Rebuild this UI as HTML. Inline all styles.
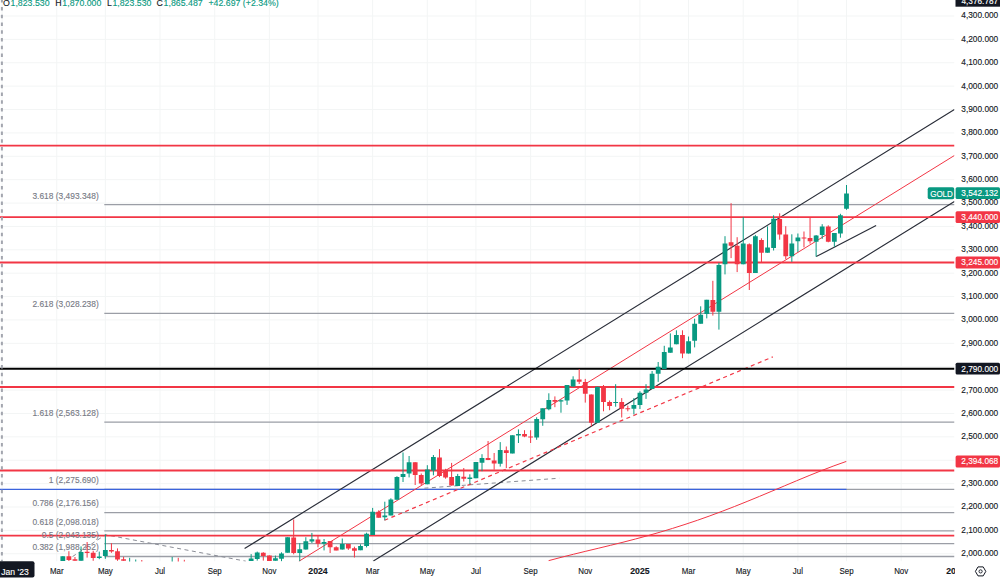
<!DOCTYPE html>
<html><head><meta charset="utf-8"><title>GOLD chart</title>
<style>html,body{margin:0;padding:0;background:#fff;width:1000px;height:581px;overflow:hidden}</style>
</head><body>
<svg width="1000" height="581" viewBox="0 0 1000 581" style="display:block;font-family:'Liberation Sans', Arial, sans-serif">
<defs><clipPath id="pc"><rect x="0" y="0" width="954.5" height="561.5"/></clipPath><clipPath id="tc"><rect x="0" y="561" width="955" height="20"/></clipPath></defs>
<rect width="1000" height="581" fill="#fff"/>
<g clip-path="url(#pc)">
<path d="M0 577.14H954.5M0 553.76H954.5M0 530.38H954.5M0 507.00H954.5M0 483.62H954.5M0 460.24H954.5M0 436.86H954.5M0 413.48H954.5M0 390.10H954.5M0 366.71H954.5M0 343.33H954.5M0 319.95H954.5M0 296.57H954.5M0 273.19H954.5M0 249.81H954.5M0 226.43H954.5M0 203.05H954.5M0 179.67H954.5M0 156.29H954.5M0 132.91H954.5M0 109.52H954.5M0 86.14H954.5M0 62.76H954.5M0 39.38H954.5M0 16.00H954.5M0 -7.38H954.5M2.07 0V561.5M56.75 0V561.5M105.35 0V561.5M160.03 0V561.5M214.70 0V561.5M269.38 0V561.5M317.98 0V561.5M372.65 0V561.5M427.32 0V561.5M475.93 0V561.5M530.60 0V561.5M585.27 0V561.5M639.95 0V561.5M688.55 0V561.5M743.23 0V561.5M797.90 0V561.5M846.50 0V561.5M901.18 0V561.5M955.85 0V561.5" stroke="#f3f5f5" stroke-width="1" fill="none"/>
<path d="M104.3 204.60H954.5M104.3 313.35H954.5M104.3 422.10H954.5M104.3 489.30H954.5M104.3 512.58H954.5M104.3 530.85H954.5M104.3 543.68H954.5M104.3 556.51H954.5" stroke="#9b9ea6" stroke-width="1.3" fill="none"/>
<path d="M0 489.30H846.5" stroke="#3b63dd" stroke-width="1.2" fill="none"/>
<path d="M72.5 556.6L105.5 534.7L245.8 561.2" stroke="#8a8d96" stroke-width="1" stroke-dasharray="4 3.5" fill="none"/>
<path d="M424.4 488.2L559.2 478.2" stroke="#8a8d96" stroke-width="1" stroke-dasharray="4 3.5" fill="none"/>
<path d="M244.6 548.6L954.4 109.6M373.4 561L954.4 201.5" stroke="#2a2e39" stroke-width="1.15" fill="none"/>
<path d="M298.9 561.3L954.4 155.5" stroke="#f23645" stroke-width="1" fill="none"/>
<path d="M384.5 520.3L772.8 356.9" stroke="#f23645" stroke-width="1.2" stroke-dasharray="4 3.5" fill="none"/>
<path d="M548.6 560.66L561.0 557.38L573.4 554.27L585.8 551.26L598.2 548.29L610.6 545.29L623.0 542.22L635.4 539.02L647.8 535.67L660.2 532.13L672.6 528.39L685.0 524.43L697.5 520.25L709.9 515.85L722.3 511.23L734.7 506.43L747.1 501.46L759.5 496.36L771.9 491.17L784.3 485.94L796.7 480.72L809.1 475.58L821.5 470.60L833.9 465.85L846.3 461.43" stroke="#f23645" stroke-width="1" fill="none" stroke-linejoin="round"/>
<path d="M816.2 256.6L876.1 225.4" stroke="#2a2e39" stroke-width="1.15" fill="none"/>
<path d="M0 145.70H954.5M0 217.20H954.5M0 262.50H954.5M0 387.00H954.5M0 470.50H954.5M0 535.60H954.5" stroke="#f23645" stroke-width="1.8" fill="none"/>
<path d="M0 368.70H954.5" stroke="#000" stroke-width="2" fill="none"/>
<text transform="translate(98.70 198.50) scale(1 1.12)" font-size="8.4" text-anchor="end" fill="#787b86" stroke="#787b86" stroke-width="0.12">3.618 (3,493.348)</text>
<text transform="translate(98.70 307.25) scale(1 1.12)" font-size="8.4" text-anchor="end" fill="#787b86" stroke="#787b86" stroke-width="0.12">2.618 (3,028.238)</text>
<text transform="translate(98.70 416.00) scale(1 1.12)" font-size="8.4" text-anchor="end" fill="#787b86" stroke="#787b86" stroke-width="0.12">1.618 (2,563.128)</text>
<text transform="translate(98.70 483.20) scale(1 1.12)" font-size="8.4" text-anchor="end" fill="#787b86" stroke="#787b86" stroke-width="0.12">1 (2,275.690)</text>
<text transform="translate(98.70 506.48) scale(1 1.12)" font-size="8.4" text-anchor="end" fill="#787b86" stroke="#787b86" stroke-width="0.12">0.786 (2,176.156)</text>
<text transform="translate(98.70 524.75) scale(1 1.12)" font-size="8.4" text-anchor="end" fill="#787b86" stroke="#787b86" stroke-width="0.12">0.618 (2,098.018)</text>
<text transform="translate(98.70 537.58) scale(1 1.12)" font-size="8.4" text-anchor="end" fill="#787b86" stroke="#787b86" stroke-width="0.12">0.5 (2,043.135)</text>
<text transform="translate(98.70 550.41) scale(1 1.12)" font-size="8.4" text-anchor="end" fill="#787b86" stroke="#787b86" stroke-width="0.12">0.382 (1,988.252)</text>
<path d="M62.83 556.20V561.00M81.05 546.40V560.80M99.28 551.60V559.20M105.35 534.40V558.80M129.65 557.80V563.00M135.73 559.50V563.00M172.18 557.00V563.00M251.15 554.10V561.00M257.23 551.60V560.60M275.45 555.60V560.70M281.52 552.30V561.30M287.60 537.20V552.70M299.75 543.20V561.30M305.83 537.20V549.60M311.90 532.90V543.00M324.05 539.00V550.40M342.28 538.50V549.60M360.50 544.30V550.20M366.57 532.70V547.40M372.65 507.90V535.00M384.80 501.70V520.30M390.88 498.30V515.40M396.95 476.20V499.70M403.03 452.50V482.00M409.10 456.00V477.40M427.32 465.20V484.30M433.40 455.00V475.30M457.70 473.90V485.90M469.85 474.30V484.40M475.93 462.00V478.20M482.00 454.20V471.20M500.23 442.10V466.60M512.38 435.30V453.40M518.45 429.40V443.00M536.67 417.30V439.80M542.75 408.30V425.80M548.83 393.30V410.30M560.98 399.50V412.70M567.05 385.10V404.90M573.12 376.30V386.60M597.43 386.80V422.70M615.65 384.20V406.70M633.88 398.10V414.40M639.95 391.20V409.00M646.02 384.20V398.90M652.10 371.00V388.90M658.18 362.00V381.90M664.25 345.80V369.00M670.33 333.40V352.80M676.40 330.30V344.30M688.55 336.50V353.60M694.62 318.70V347.40M700.70 306.30V323.70M706.77 299.80V318.40M718.93 262.80V329.60M725.00 236.20V274.40M743.23 217.10V264.30M755.38 234.90V272.90M767.52 226.40V252.70M773.60 215.30V250.50M791.83 234.30V261.90M797.90 233.50V252.10M816.12 235.00V256.70M822.20 224.20V238.90M834.35 233.00V246.70M840.43 213.80V237.70M846.50 185.00V209.80" stroke="#089981" stroke-width="1" fill="none"/>
<path d="M60.43 556.20h4.80v4.80h-4.80zM78.65 552.00h4.80v8.80h-4.80zM96.88 556.40h4.80v1.60h-4.80zM102.95 550.00h4.80v6.00h-4.80zM127.25 562.00h4.80v1.00h-4.80zM133.33 562.00h4.80v1.00h-4.80zM169.78 562.00h4.80v1.00h-4.80zM248.75 558.40h4.80v2.60h-4.80zM254.83 552.60h4.80v6.30h-4.80zM273.05 558.20h4.80v2.50h-4.80zM279.12 553.50h4.80v5.20h-4.80zM285.20 537.20h4.80v15.50h-4.80zM297.35 549.20h4.80v3.80h-4.80zM303.43 541.30h4.80v8.30h-4.80zM309.50 539.30h4.80v2.30h-4.80zM321.65 542.00h4.80v1.70h-4.80zM339.88 544.00h4.80v5.60h-4.80zM358.10 545.90h4.80v4.30h-4.80zM364.18 533.80h4.80v12.10h-4.80zM370.25 511.80h4.80v23.20h-4.80zM382.40 515.40h4.80v1.80h-4.80zM388.48 499.40h4.80v16.00h-4.80zM394.55 477.00h4.80v22.70h-4.80zM400.63 473.90h4.80v3.10h-4.80zM406.70 462.20h4.80v11.30h-4.80zM424.93 469.40h4.80v14.90h-4.80zM431.00 457.00h4.80v13.50h-4.80zM455.30 476.00h4.80v9.90h-4.80zM467.45 477.60h4.80v1.40h-4.80zM473.53 462.00h4.80v16.20h-4.80zM479.60 458.10h4.80v4.60h-4.80zM497.83 449.90h4.80v13.90h-4.80zM509.98 435.30h4.80v18.10h-4.80zM516.05 434.00h4.80v1.60h-4.80zM534.27 418.90h4.80v18.50h-4.80zM540.35 408.30h4.80v10.90h-4.80zM546.43 400.00h4.80v9.20h-4.80zM558.58 400.30h4.80v1.20h-4.80zM564.65 385.10h4.80v15.50h-4.80zM570.73 379.40h4.80v7.20h-4.80zM595.03 386.80h4.80v35.90h-4.80zM613.25 402.00h4.80v1.10h-4.80zM631.48 405.10h4.80v3.60h-4.80zM637.55 392.70h4.80v12.40h-4.80zM643.62 389.60h4.80v3.10h-4.80zM649.70 373.70h4.80v15.20h-4.80zM655.78 366.70h4.80v7.00h-4.80zM661.85 352.00h4.80v17.00h-4.80zM667.93 347.40h4.80v5.40h-4.80zM674.00 335.00h4.80v9.30h-4.80zM686.15 341.20h4.80v12.40h-4.80zM692.23 323.70h4.80v17.00h-4.80zM698.30 314.80h4.80v8.90h-4.80zM704.38 299.80h4.80v14.30h-4.80zM716.53 265.10h4.80v46.60h-4.80zM722.60 243.40h4.80v20.90h-4.80zM740.83 243.40h4.80v20.90h-4.80zM752.98 236.20h4.80v36.70h-4.80zM765.12 247.60h4.80v5.10h-4.80zM771.20 218.70h4.80v29.30h-4.80zM789.43 243.60h4.80v12.70h-4.80zM795.50 237.40h4.80v3.80h-4.80zM813.73 235.50h4.80v6.20h-4.80zM819.80 226.50h4.80v8.50h-4.80zM831.95 233.00h4.80v8.70h-4.80zM838.03 215.30h4.80v18.20h-4.80zM844.10 193.60h4.80v15.10h-4.80z" fill="#089981"/>
<path d="M68.90 551.20V561.00M74.97 557.00V560.80M87.12 542.00V557.60M93.20 550.80V560.80M111.43 543.20V552.80M117.50 548.40V560.80M123.58 556.80V560.80M141.80 560.00V563.00M178.25 557.80V563.00M184.32 559.80V563.00M263.30 552.20V560.60M269.38 555.40V561.00M293.68 519.50V554.30M317.98 535.80V547.30M330.12 541.10V553.00M336.20 546.30V550.40M348.35 544.00V549.90M354.43 546.70V557.50M378.73 510.30V517.70M415.18 462.20V485.00M421.25 473.50V485.00M439.48 449.10V477.10M445.55 468.80V478.70M451.62 462.90V485.60M463.78 468.00V481.50M488.07 441.00V460.10M494.15 453.00V469.70M506.30 446.50V468.10M524.53 430.20V437.20M530.60 430.20V443.00M554.90 396.40V407.20M579.20 369.00V384.00M585.27 378.90V402.60M591.35 394.40V426.60M603.50 385.00V411.30M609.58 400.50V410.20M621.73 398.10V417.50M627.80 405.60V411.30M682.48 330.30V358.20M712.85 280.80V315.60M731.08 203.20V258.10M737.15 237.20V272.10M749.30 243.40V290.00M761.45 238.30V262.00M779.68 213.30V239.70M785.75 226.20V259.10M803.98 231.50V247.40M810.05 218.00V243.60M828.27 225.30V242.30" stroke="#f23645" stroke-width="1" fill="none"/>
<path d="M66.50 556.20h4.80v3.80h-4.80zM72.57 559.20h4.80v1.60h-4.80zM84.72 551.80h4.80v1.20h-4.80zM90.80 552.80h4.80v5.20h-4.80zM109.03 550.00h4.80v1.60h-4.80zM115.10 551.20h4.80v8.40h-4.80zM121.17 559.20h4.80v1.60h-4.80zM139.40 562.00h4.80v1.00h-4.80zM175.85 562.00h4.80v1.00h-4.80zM181.92 562.00h4.80v1.00h-4.80zM260.90 552.80h4.80v3.10h-4.80zM266.98 555.40h4.80v5.60h-4.80zM291.28 537.50h4.80v15.50h-4.80zM315.58 539.60h4.80v4.10h-4.80zM327.73 541.10h4.80v6.20h-4.80zM333.80 547.30h4.80v3.10h-4.80zM345.95 544.00h4.80v4.40h-4.80zM352.03 548.20h4.80v2.60h-4.80zM376.33 511.80h4.80v5.90h-4.80zM412.78 462.20h4.80v12.70h-4.80zM418.85 474.90h4.80v8.70h-4.80zM437.08 457.40h4.80v18.60h-4.80zM443.15 470.50h4.80v6.90h-4.80zM449.23 477.10h4.80v8.50h-4.80zM461.38 476.70h4.80v2.00h-4.80zM485.68 458.10h4.80v2.00h-4.80zM491.75 460.40h4.80v3.10h-4.80zM503.90 450.30h4.80v2.70h-4.80zM522.13 434.00h4.80v2.40h-4.80zM528.20 436.60h4.80v1.00h-4.80zM552.50 400.00h4.80v1.80h-4.80zM576.80 379.40h4.80v2.30h-4.80zM582.88 382.10h4.80v11.70h-4.80zM588.95 394.40h4.80v28.30h-4.80zM601.10 387.00h4.80v15.00h-4.80zM607.18 402.00h4.80v3.90h-4.80zM619.33 402.00h4.80v6.70h-4.80zM625.40 408.20h4.80v1.10h-4.80zM680.08 335.00h4.80v18.60h-4.80zM710.45 300.10h4.80v11.60h-4.80zM728.68 242.30h4.80v3.50h-4.80zM734.75 245.80h4.80v18.50h-4.80zM746.90 244.20h4.80v28.70h-4.80zM759.05 239.90h4.80v12.80h-4.80zM777.28 219.10h4.80v15.50h-4.80zM783.35 234.60h4.80v21.70h-4.80zM801.58 237.40h4.80v1.20h-4.80zM807.65 238.10h4.80v3.10h-4.80zM825.88 226.50h4.80v15.20h-4.80z" fill="#f23645"/>
<path d="M1.9 0V561.5" stroke="#a3a6af" stroke-width="2" stroke-dasharray="3.5 4.286" stroke-dashoffset="0.886" fill="none"/>
<rect x="927.7" y="187.3" width="26.7" height="12" rx="2" fill="#089981"/>
<text transform="translate(941.50 196.90) scale(1 1.14)" font-size="8.0" text-anchor="middle" fill="#ffffff" stroke="#ffffff" stroke-width="0.12">GOLD</text>
</g>
<text transform="translate(3.10 6.15) scale(1 0.97)" font-size="8.8" fill="#131722" stroke="#131722" stroke-width="0.12">O</text>
<text transform="translate(10.50 6.15) scale(1 0.97)" font-size="8.8" fill="#089981" stroke="#089981" stroke-width="0.12">1,823.530</text>
<text transform="translate(55.30 6.15) scale(1 0.97)" font-size="8.8" fill="#131722" stroke="#131722" stroke-width="0.12">H</text>
<text transform="translate(62.30 6.15) scale(1 0.97)" font-size="8.8" fill="#089981" stroke="#089981" stroke-width="0.12">1,870.000</text>
<text transform="translate(107.10 6.15) scale(1 0.97)" font-size="8.8" fill="#131722" stroke="#131722" stroke-width="0.12">L</text>
<text transform="translate(112.40 6.15) scale(1 0.97)" font-size="8.8" fill="#089981" stroke="#089981" stroke-width="0.12">1,823.530</text>
<text transform="translate(156.40 6.15) scale(1 0.97)" font-size="8.8" fill="#131722" stroke="#131722" stroke-width="0.12">C</text>
<text transform="translate(163.60 6.15) scale(1 0.97)" font-size="8.8" fill="#089981" stroke="#089981" stroke-width="0.12">1,865.487</text>
<text transform="translate(208.40 6.15) scale(1 0.97)" font-size="8.8" fill="#089981" stroke="#089981" stroke-width="0.12">+42.697 (+2.34%)</text>
<text transform="translate(998.20 556.16) scale(1 1.16)" font-size="8.3" text-anchor="end" fill="#131722" stroke="#131722" stroke-width="0.12">2,000.000</text>
<text transform="translate(998.20 532.78) scale(1 1.16)" font-size="8.3" text-anchor="end" fill="#131722" stroke="#131722" stroke-width="0.12">2,100.000</text>
<text transform="translate(998.20 509.40) scale(1 1.16)" font-size="8.3" text-anchor="end" fill="#131722" stroke="#131722" stroke-width="0.12">2,200.000</text>
<text transform="translate(998.20 486.02) scale(1 1.16)" font-size="8.3" text-anchor="end" fill="#131722" stroke="#131722" stroke-width="0.12">2,300.000</text>
<text transform="translate(998.20 462.64) scale(1 1.16)" font-size="8.3" text-anchor="end" fill="#131722" stroke="#131722" stroke-width="0.12">2,400.000</text>
<text transform="translate(998.20 439.26) scale(1 1.16)" font-size="8.3" text-anchor="end" fill="#131722" stroke="#131722" stroke-width="0.12">2,500.000</text>
<text transform="translate(998.20 415.88) scale(1 1.16)" font-size="8.3" text-anchor="end" fill="#131722" stroke="#131722" stroke-width="0.12">2,600.000</text>
<text transform="translate(998.20 392.50) scale(1 1.16)" font-size="8.3" text-anchor="end" fill="#131722" stroke="#131722" stroke-width="0.12">2,700.000</text>
<text transform="translate(998.20 369.11) scale(1 1.16)" font-size="8.3" text-anchor="end" fill="#131722" stroke="#131722" stroke-width="0.12">2,800.000</text>
<text transform="translate(998.20 345.73) scale(1 1.16)" font-size="8.3" text-anchor="end" fill="#131722" stroke="#131722" stroke-width="0.12">2,900.000</text>
<text transform="translate(998.20 322.35) scale(1 1.16)" font-size="8.3" text-anchor="end" fill="#131722" stroke="#131722" stroke-width="0.12">3,000.000</text>
<text transform="translate(998.20 298.97) scale(1 1.16)" font-size="8.3" text-anchor="end" fill="#131722" stroke="#131722" stroke-width="0.12">3,100.000</text>
<text transform="translate(998.20 275.59) scale(1 1.16)" font-size="8.3" text-anchor="end" fill="#131722" stroke="#131722" stroke-width="0.12">3,200.000</text>
<text transform="translate(998.20 252.21) scale(1 1.16)" font-size="8.3" text-anchor="end" fill="#131722" stroke="#131722" stroke-width="0.12">3,300.000</text>
<text transform="translate(998.20 228.83) scale(1 1.16)" font-size="8.3" text-anchor="end" fill="#131722" stroke="#131722" stroke-width="0.12">3,400.000</text>
<text transform="translate(998.20 205.45) scale(1 1.16)" font-size="8.3" text-anchor="end" fill="#131722" stroke="#131722" stroke-width="0.12">3,500.000</text>
<text transform="translate(998.20 182.07) scale(1 1.16)" font-size="8.3" text-anchor="end" fill="#131722" stroke="#131722" stroke-width="0.12">3,600.000</text>
<text transform="translate(998.20 158.69) scale(1 1.16)" font-size="8.3" text-anchor="end" fill="#131722" stroke="#131722" stroke-width="0.12">3,700.000</text>
<text transform="translate(998.20 135.31) scale(1 1.16)" font-size="8.3" text-anchor="end" fill="#131722" stroke="#131722" stroke-width="0.12">3,800.000</text>
<text transform="translate(998.20 111.92) scale(1 1.16)" font-size="8.3" text-anchor="end" fill="#131722" stroke="#131722" stroke-width="0.12">3,900.000</text>
<text transform="translate(998.20 88.54) scale(1 1.16)" font-size="8.3" text-anchor="end" fill="#131722" stroke="#131722" stroke-width="0.12">4,000.000</text>
<text transform="translate(998.20 65.16) scale(1 1.16)" font-size="8.3" text-anchor="end" fill="#131722" stroke="#131722" stroke-width="0.12">4,100.000</text>
<text transform="translate(998.20 41.78) scale(1 1.16)" font-size="8.3" text-anchor="end" fill="#131722" stroke="#131722" stroke-width="0.12">4,200.000</text>
<text transform="translate(998.20 18.40) scale(1 1.16)" font-size="8.3" text-anchor="end" fill="#131722" stroke="#131722" stroke-width="0.12">4,300.000</text>
<rect x="955.6" y="187.30" width="44.4" height="11.8" rx="1.5" fill="#089981"/>
<text transform="translate(998.20 196.10) scale(1 1.16)" font-size="8.3" text-anchor="end" fill="#ffffff" stroke="#ffffff" stroke-width="0.12">3,542.132</text>
<rect x="955.6" y="211.30" width="44.4" height="11.8" rx="1.5" fill="#f23645"/>
<text transform="translate(998.20 220.10) scale(1 1.16)" font-size="8.3" text-anchor="end" fill="#ffffff" stroke="#ffffff" stroke-width="0.12">3,440.000</text>
<rect x="955.6" y="256.60" width="44.4" height="11.8" rx="1.5" fill="#f23645"/>
<text transform="translate(998.20 265.40) scale(1 1.16)" font-size="8.3" text-anchor="end" fill="#ffffff" stroke="#ffffff" stroke-width="0.12">3,245.000</text>
<rect x="955.6" y="362.80" width="44.4" height="11.8" rx="1.5" fill="#131722"/>
<text transform="translate(998.20 371.60) scale(1 1.16)" font-size="8.3" text-anchor="end" fill="#ffffff" stroke="#ffffff" stroke-width="0.12">2,790.000</text>
<rect x="955.6" y="455.60" width="44.4" height="11.8" rx="1.5" fill="#f23645"/>
<text transform="translate(998.20 464.40) scale(1 1.16)" font-size="8.3" text-anchor="end" fill="#ffffff" stroke="#ffffff" stroke-width="0.12">2,394.068</text>
<rect x="955.5" y="-6" width="44.5" height="12.7" fill="#131722"/>
<text transform="translate(998.20 3.60) scale(1 1.14)" font-size="8.3" text-anchor="end" fill="#ffffff" stroke="#ffffff" stroke-width="0.12">4,376.787</text>
<text transform="translate(56.75 573.90) scale(1 1.08)" font-size="7.9" text-anchor="middle" fill="#131722" stroke="#131722" stroke-width="0.12">Mar</text>
<text transform="translate(105.35 573.90) scale(1 1.08)" font-size="7.9" text-anchor="middle" fill="#131722" stroke="#131722" stroke-width="0.12">May</text>
<text transform="translate(160.03 573.90) scale(1 1.08)" font-size="7.9" text-anchor="middle" fill="#131722" stroke="#131722" stroke-width="0.12">Jul</text>
<text transform="translate(214.70 573.90) scale(1 1.08)" font-size="7.9" text-anchor="middle" fill="#131722" stroke="#131722" stroke-width="0.12">Sep</text>
<text transform="translate(269.38 573.90) scale(1 1.08)" font-size="7.9" text-anchor="middle" fill="#131722" stroke="#131722" stroke-width="0.12">Nov</text>
<text transform="translate(317.98 573.90) scale(1 1.08)" font-size="8.7" font-weight="bold" text-anchor="middle" fill="#131722" stroke="#131722" stroke-width="0.12">2024</text>
<text transform="translate(372.65 573.90) scale(1 1.08)" font-size="7.9" text-anchor="middle" fill="#131722" stroke="#131722" stroke-width="0.12">Mar</text>
<text transform="translate(427.32 573.90) scale(1 1.08)" font-size="7.9" text-anchor="middle" fill="#131722" stroke="#131722" stroke-width="0.12">May</text>
<text transform="translate(475.93 573.90) scale(1 1.08)" font-size="7.9" text-anchor="middle" fill="#131722" stroke="#131722" stroke-width="0.12">Jul</text>
<text transform="translate(530.60 573.90) scale(1 1.08)" font-size="7.9" text-anchor="middle" fill="#131722" stroke="#131722" stroke-width="0.12">Sep</text>
<text transform="translate(585.27 573.90) scale(1 1.08)" font-size="7.9" text-anchor="middle" fill="#131722" stroke="#131722" stroke-width="0.12">Nov</text>
<text transform="translate(639.95 573.90) scale(1 1.08)" font-size="8.7" font-weight="bold" text-anchor="middle" fill="#131722" stroke="#131722" stroke-width="0.12">2025</text>
<text transform="translate(688.55 573.90) scale(1 1.08)" font-size="7.9" text-anchor="middle" fill="#131722" stroke="#131722" stroke-width="0.12">Mar</text>
<text transform="translate(743.23 573.90) scale(1 1.08)" font-size="7.9" text-anchor="middle" fill="#131722" stroke="#131722" stroke-width="0.12">May</text>
<text transform="translate(797.90 573.90) scale(1 1.08)" font-size="7.9" text-anchor="middle" fill="#131722" stroke="#131722" stroke-width="0.12">Jul</text>
<text transform="translate(846.50 573.90) scale(1 1.08)" font-size="7.9" text-anchor="middle" fill="#131722" stroke="#131722" stroke-width="0.12">Sep</text>
<text transform="translate(901.18 573.90) scale(1 1.08)" font-size="7.9" text-anchor="middle" fill="#131722" stroke="#131722" stroke-width="0.12">Nov</text>
<g clip-path="url(#tc)">
<text transform="translate(955.85 573.90) scale(1 1.08)" font-size="8.7" font-weight="bold" text-anchor="middle" fill="#131722" stroke="#131722" stroke-width="0.12">2026</text>
</g>
<rect x="-3" y="561.3" width="37.5" height="16.2" rx="2" fill="#131722"/>
<text transform="translate(15.00 574.60) scale(1 1.15)" font-size="8.6" text-anchor="middle" fill="#ffffff" stroke="#ffffff" stroke-width="0.12">Jan '23</text>
<polygon points="985.80,571.40 983.20,575.90 978.00,575.90 975.40,571.40 978.00,566.90 983.20,566.90" fill="none" stroke="#131722" stroke-width="1"/>
<circle cx="980.6" cy="571.4" r="1.6" fill="none" stroke="#131722" stroke-width="0.9"/>
</svg>
</body></html>
